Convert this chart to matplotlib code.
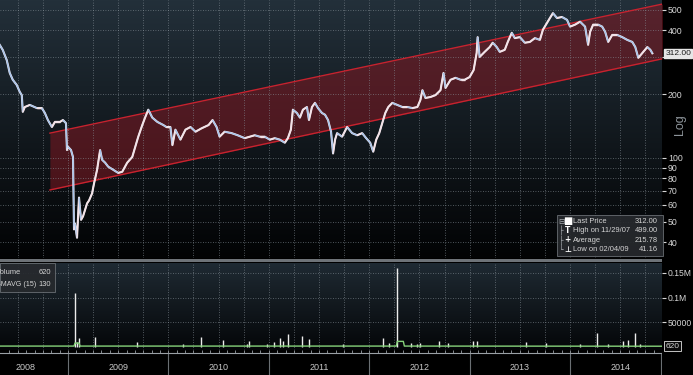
import numpy as np
import matplotlib
matplotlib.use("Agg")
import matplotlib.pyplot as plt
from matplotlib.collections import LineCollection
from matplotlib.colors import LinearSegmentedColormap
from matplotlib.patches import Rectangle
from matplotlib.ticker import FixedLocator, NullLocator

# price path, decimal years / last price
price_t = [
    2008.32, 2008.35, 2008.39, 2008.42, 2008.45, 2008.49, 2008.52, 2008.54, 2008.55, 2008.57, 2008.62,
    2008.69, 2008.74, 2008.77, 2008.80, 2008.84, 2008.87, 2008.92, 2008.95, 2008.98, 2008.99,
    2009.00, 2009.03, 2009.05, 2009.06, 2009.07, 2009.09, 2009.11, 2009.13, 2009.15, 2009.19, 2009.21,
    2009.24, 2009.26, 2009.29, 2009.32, 2009.34, 2009.37, 2009.40, 2009.45, 2009.50, 2009.54, 2009.59,
    2009.64, 2009.67, 2009.70, 2009.74, 2009.77, 2009.80, 2009.84, 2009.89, 2009.95, 2009.98,
    2010.02, 2010.04, 2010.07, 2010.12, 2010.17, 2010.22, 2010.27, 2010.33, 2010.40, 2010.44, 2010.48,
    2010.51, 2010.56, 2010.63, 2010.69, 2010.76, 2010.81, 2010.86, 2010.91, 2010.96,
    2011.01, 2011.06, 2011.11, 2011.16, 2011.19, 2011.22, 2011.24, 2011.28, 2011.31, 2011.34, 2011.38,
    2011.40, 2011.43, 2011.46, 2011.49, 2011.53, 2011.56, 2011.59, 2011.62, 2011.64, 2011.66, 2011.68,
    2011.73, 2011.78, 2011.83, 2011.88, 2011.93, 2011.97,
    2012.01, 2012.04, 2012.07, 2012.10, 2012.13, 2012.16, 2012.19, 2012.23, 2012.28, 2012.33, 2012.38,
    2012.43, 2012.48, 2012.51, 2012.53, 2012.56, 2012.61, 2012.66, 2012.71, 2012.74, 2012.76, 2012.81,
    2012.86, 2012.91, 2012.95,
    2013.00, 2013.04, 2013.07, 2013.08, 2013.10, 2013.15, 2013.20, 2013.23, 2013.27, 2013.30, 2013.35,
    2013.38, 2013.42, 2013.45, 2013.50, 2013.55, 2013.60, 2013.65, 2013.70, 2013.73, 2013.77, 2013.80,
    2013.83, 2013.87, 2013.92, 2013.97,
    2014.00, 2014.05, 2014.10, 2014.15, 2014.18, 2014.20, 2014.23, 2014.28, 2014.32, 2014.35, 2014.38,
    2014.42, 2014.47, 2014.52, 2014.57, 2014.62, 2014.65, 2014.68, 2014.72, 2014.77, 2014.80, 2014.82,
]
price_v = [
    342, 324, 290, 252, 234, 221, 205, 198, 165, 174, 178,
    172, 172, 163, 151, 140, 148, 148, 151, 146, 109,
    113, 109, 101, 46, 49, 42, 65, 51, 53, 61, 63,
    68, 76, 88, 109, 98, 95, 91, 88, 85, 86, 95,
    101, 113, 126, 143, 156, 169, 155, 148, 143, 140,
    140, 115, 136, 122, 136, 140, 133, 138, 143, 151, 140,
    126, 133, 131, 128, 124, 126, 128, 126, 126,
    122, 124, 122, 118, 124, 136, 169, 163, 155, 169, 174,
    151, 174, 182, 172, 163, 160, 151, 133, 105, 122, 131,
    126, 140, 131, 128, 131, 124,
    118, 107, 122, 131, 146, 163, 174, 182, 178, 174, 174,
    172, 174, 188, 209, 192, 194, 198, 209, 252, 214, 234,
    239, 234, 234,
    241, 260, 313, 372, 300, 317, 334, 350, 334, 317, 324,
    353, 390, 368, 372, 350, 353, 368, 361, 403, 434, 458,
    483, 458, 463, 449,
    417, 426, 440, 417, 342, 394, 426, 426, 417, 394, 353,
    381, 381, 372, 361, 353, 334, 297, 313, 334, 324, 312,
]

# trend channel (log-linear), start / end
channel_t = [2008.82, 2014.92]
channel_lo = [70.6, 294]
channel_hi = [131, 533]

# volume spikes
vol_t = [2009.07, 2009.09, 2009.11, 2009.27, 2009.69, 2010.15, 2010.32, 2010.54, 2010.78, 2010.80,
         2010.98, 2011.05, 2011.11, 2011.14, 2011.19, 2011.33, 2011.40, 2011.74, 2012.14, 2012.20,
         2012.28, 2012.42, 2012.48, 2012.51, 2012.70, 2012.78, 2013.03, 2013.07, 2013.56, 2013.76,
         2014.10, 2014.27, 2014.38, 2014.53, 2014.58, 2014.65, 2014.70]
vol_v = [109000, 9000, 17000, 19000, 9000, 5000, 19000, 13000, 5000, 11000,
         5000, 9000, 17000, 11000, 25000, 21000, 15000, 5000, 17000, 7000,
         160000, 7000, 5000, 7000, 11000, 7000, 11000, 11000, 9000, 7000,
         5000, 28000, 5000, 11000, 13000, 28000, 6000]

havg_t = [2008.32, 2009.06, 2009.07, 2009.11, 2009.12, 2012.27, 2012.28, 2012.34, 2012.35, 2014.92]
havg_v = [900, 900, 7000, 7000, 900, 900, 10500, 10500, 900, 620]

years = [2008, 2009, 2010, 2011, 2012, 2013, 2014]
price_ticks = [40, 50, 60, 70, 80, 90, 100, 200, 300, 400, 500]
price_labels = ["40", "50", "60", "70", "80", "90", "100", "200", "", "400", "500"]
vol_ticks = [50000, 100000, 150000]
vol_labels = ["50000", "0.1M", "0.15M"]

legend_names = ["Last Price", "High on 11/29/07", "Average", "Low on 02/04/09"]
legend_values = ["312.00", "499.00", "215.78", "41.16"]
legend_marks = ["\u25a0", "T", "+", "\u22a5"]
legend_tree = ["\u229f", "\u251c", "\u251c", "\u2514"]

plt.rcParams["font.family"] = ["Liberation Sans", "DejaVu Sans"]

W, H = 693, 375
x0, x1 = 2008.323, 2014.916
txt = "#d6d6d6"
grid = dict(color="#8a949c", linestyle=(0, (1, 2)), linewidth=0.6, alpha=0.75)
small = 5.4


def rect(l, t, r, b):
    return [l / W, 1 - b / H, (r - l) / W, (b - t) / H]


def backdrop(r, top, bottom):
    bg = fig.add_axes(r, zorder=0)
    cmap = LinearSegmentedColormap.from_list("bg", [top, bottom])
    bg.imshow(np.linspace(0, 1, 256)[:, None], cmap=cmap, aspect="auto", extent=[0, 1, 0, 1])
    bg.axis("off")


fig = plt.figure(figsize=(W / 100, H / 100), dpi=100, facecolor="black")

##price panel
r_price = rect(0, 0, 662, 258)
backdrop(r_price, "#23303a", "#020304")
ax = fig.add_axes(r_price, zorder=1)
ax.patch.set_visible(False)
ax.set_yscale("log")

ax.fill_between(channel_t, channel_lo, channel_hi, color="#8a1822", alpha=0.5, lw=0, zorder=1)
ax.plot(channel_t, channel_lo, color="#c8222e", lw=1.0, zorder=2)
ax.plot(channel_t, channel_hi, color="#c8222e", lw=1.0, zorder=2)

pts = np.column_stack([price_t, np.array(price_v, dtype=float)])
segs = np.stack([pts[:-1], pts[1:]], axis=1)
cols = ["#f4e2e7" if b >= a else "#a6c3ea" for a, b in zip(price_v[:-1], price_v[1:])]
ax.plot(price_t, price_v, color="#efe6ec", lw=1.5, zorder=3)
ax.add_collection(LineCollection(segs, colors=cols, linewidths=1.0, zorder=4))

ax.set_xlim(x0, x1)
ax.set_ylim(33.7, 557)
ax.xaxis.set_major_locator(FixedLocator(np.arange(2008.5, 2015, 0.25)))
ax.tick_params(axis="x", length=0, labelbottom=False)
ax.yaxis.tick_right()
ax.yaxis.set_major_locator(FixedLocator(price_ticks))
ax.yaxis.set_minor_locator(NullLocator())
ax.set_yticklabels(price_labels)
ax.tick_params(axis="y", direction="out", length=3, width=0.8, colors=txt, labelsize=6.3, pad=1.2)
ax.grid(True, **grid)
for s in ax.spines.values():
    s.set_visible(False)

ax.text(1.005, price_v[-1], legend_values[0], transform=ax.get_yaxis_transform(), va="center",
        ha="left", fontsize=6, color="#1a1a1a", clip_on=False,
        bbox=dict(boxstyle="square,pad=0.15", fc="#e6e6e6", ec="#e6e6e6"))
fig.text(680 / W, 1 - 125 / H, "Log", rotation=90, color="#8e959b", fontsize=9, ha="center", va="center")

# legend box
fig.patches.append(Rectangle((557 / W, 1 - 256 / H), 106 / W, 41 / H, transform=fig.transFigure,
                             fc="#26292d", ec="#70757a", lw=0.6, alpha=0.92, zorder=5))
for i, (tree, mark, name, val) in enumerate(zip(legend_tree, legend_marks, legend_names, legend_values)):
    yy = 1 - (221 + 9.5 * i) / H
    fig.text(561 / W, yy, tree, color="#a8adb2", fontsize=5.5, va="center", ha="center", zorder=6,
             family="DejaVu Sans")
    fig.text(567.5 / W, yy, mark, color="white", fontsize=5.5 if i else 7, va="center", ha="center",
             zorder=6, fontweight="bold", family="DejaVu Sans")
    fig.text(573 / W, yy, name, color=txt, fontsize=small, va="center", zorder=6)
    fig.text(658 / W, yy, val, color=txt, fontsize=small, va="center", ha="right", zorder=6)

# separator
fig.patches.append(Rectangle((0, 1 - 262 / H), 662 / W, 3 / H, transform=fig.transFigure,
                             fc="#6e7378", ec="none", zorder=5))

##volume panel
r_vol = rect(0, 263, 662, 350)
backdrop(r_vol, "#1f2a33", "#040608")
av = fig.add_axes(r_vol, zorder=1)
av.patch.set_visible(False)
av.vlines(vol_t, 0, vol_v, color="#ececec", lw=1.0, zorder=3)
av.plot(havg_t, havg_v, color="#86d27a", lw=1.0, zorder=4)
av.set_xlim(x0, x1)
av.set_ylim(-7100, 170400)
av.xaxis.set_major_locator(FixedLocator(np.arange(2008.5, 2015, 0.25)))
av.tick_params(axis="x", length=0, labelbottom=False)
av.yaxis.tick_right()
av.yaxis.set_major_locator(FixedLocator(vol_ticks))
av.set_yticklabels(vol_labels)
av.tick_params(axis="y", direction="out", length=3, width=0.8, colors=txt, labelsize=6.2, pad=1.2)
av.grid(True, **grid)
for s in av.spines.values():
    s.set_visible(False)
av.text(1.005, 620, "620", transform=av.get_yaxis_transform(), va="center", ha="left",
        fontsize=6, color=txt, clip_on=False,
        bbox=dict(boxstyle="square,pad=0.2", fc="#0a0a0a", ec="#e0e0e0", lw=0.6))

fig.patches.append(Rectangle((0, 1 - 292 / H), 55 / W, 29 / H, transform=fig.transFigure,
                             fc="#26292d", ec="#70757a", lw=0.6, alpha=0.92, zorder=5))
fig.text(-4 / W, 1 - 273 / H, "Volume", color=txt, fontsize=small, va="center", zorder=6)
fig.text(51 / W, 1 - 273 / H, "620", color=txt, fontsize=small, va="center", ha="right", zorder=6)
fig.text(-4 / W, 1 - 284 / H, "SMAVG (15)", color=txt, fontsize=5.1, va="center", zorder=6)
fig.text(51 / W, 1 - 284 / H, "130", color=txt, fontsize=small, va="center", ha="right", zorder=6)

##date strip
ad = fig.add_axes(rect(0, 350, 662, 375), zorder=1)
ad.set_facecolor("black")
ad.set_xlim(x0, x1)
ad.set_ylim(0, 1)
months = np.arange(2008 + 5 / 12, 2015, 1 / 12)
ad.xaxis.set_major_locator(FixedLocator(months))
ad.tick_params(axis="x", direction="in", length=2, width=0.6, colors="#9aa0a5",
               top=True, bottom=False, labelbottom=False)
ad.set_yticks([])
for s in ad.spines.values():
    s.set_visible(False)
ad.axhline(0.88, color="#9aa0a5", lw=0.8)
for y in years:
    if y > x0:
        ad.axvline(y, 0, 0.85, color="#6a6f73", lw=0.8)
    ad.text(max(y + 0.5, x0 + 0.25), 0.3, str(y), color="#c8c8c8", fontsize=6.5, ha="center", va="center")
ad.axvline(x1 - 0.005, 0, 0.85, color="#6a6f73", lw=0.8)

fig.savefig("out.png", dpi=100, facecolor="black")
